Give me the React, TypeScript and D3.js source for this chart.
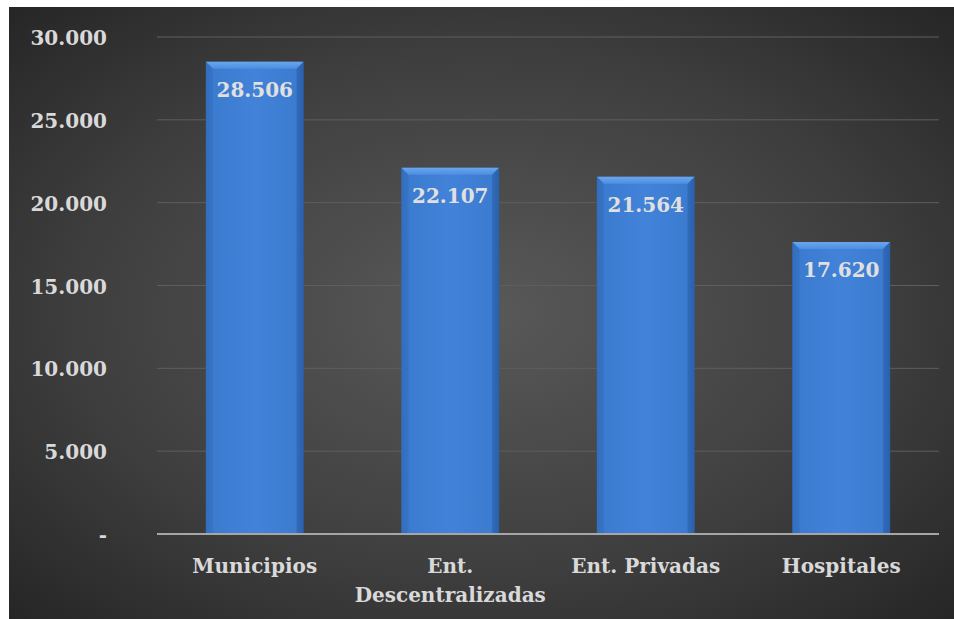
import React from "react";
import * as d3 from "d3";

const categories = [["Municipios"], ["Ent.", "Descentralizadas"], ["Ent. Privadas"], ["Hospitales"]];
const values = [28506, 22107, 21564, 17620];
const labels = ["28.506", "22.107", "21.564", "17.620"];
const tickValues = [0, 5000, 10000, 15000, 20000, 25000, 30000];
const tickLabels = ["-", "5.000", "10.000", "15.000", "20.000", "25.000", "30.000"];

const W = 954, H = 619;
const left = 157, right = 939, top = 37, bottom = 534;
const font = "'DejaVu Serif', serif";

export default function App() {
  const x = d3.scaleBand<number>().domain(d3.range(values.length)).range([left, right]).paddingInner(0.5).paddingOuter(0.25);
  const y = d3.scaleLinear().domain([0, 30000]).range([bottom, top]);
  const bw = x.bandwidth();
  const bev = 7;
  return (
    <svg width={W} height={H} style={{ position: "absolute", left: 0, top: 0 }}>
      <defs>
        <radialGradient id="bg" cx="0.5" cy="0.5" r="0.75">
          <stop offset="0" stopColor="#595959" />
          <stop offset="0.55" stopColor="#3f3f3f" />
          <stop offset="1" stopColor="#222222" />
        </radialGradient>
        <linearGradient id="face" x1="0" x2="1" y1="0" y2="0">
          <stop offset="0" stopColor="#2f69b8" />
          <stop offset="0.08" stopColor="#3b7bd0" />
          <stop offset="0.5" stopColor="#4282d8" />
          <stop offset="0.92" stopColor="#3b7bd0" />
          <stop offset="1" stopColor="#2a5ea8" />
        </linearGradient>
        <linearGradient id="topbev" x1="0" x2="0" y1="0" y2="1">
          <stop offset="0" stopColor="#6aa6ee" />
          <stop offset="1" stopColor="#4d8ee0" />
        </linearGradient>
      </defs>
      <rect x={9} y={7} width={W - 9} height={H - 7} fill="url(#bg)" />
      {tickValues.slice(1).map((t) => (
        <line key={t} x1={left} x2={right} y1={y(t)} y2={y(t)} stroke="#5e5e5e" strokeWidth={1} />
      ))}
      {tickValues.map((t, i) => (
        <text key={t} x={107} y={y(t) + 8} textAnchor="end" fontFamily={font} fontWeight="bold" fontSize={20} fill="#d9d9d9">
          {tickLabels[i]}
        </text>
      ))}
      {values.map((v, i) => {
        const x0 = x(i)!;
        const y0 = y(v);
        const h = bottom - y0;
        return (
          <g key={i}>
            <rect x={x0} y={y0} width={bw} height={h} fill="url(#face)" />
            <polygon points={`${x0},${y0} ${x0 + bw},${y0} ${x0 + bw - bev},${y0 + bev} ${x0 + bev},${y0 + bev}`} fill="url(#topbev)" />
            <polygon points={`${x0},${y0} ${x0 + bev},${y0 + bev} ${x0 + bev},${bottom} ${x0},${bottom}`} fill="#3671c2" opacity={0.6} />
            <polygon points={`${x0 + bw},${y0} ${x0 + bw - bev},${y0 + bev} ${x0 + bw - bev},${bottom} ${x0 + bw},${bottom}`} fill="#2c62ad" opacity={0.6} />
            <text x={x0 + bw / 2} y={y0 + 35} textAnchor="middle" fontFamily={font} fontWeight="bold" fontSize={20} fill="#e0e0e0">
              {labels[i]}
            </text>
          </g>
        );
      })}
      <line x1={left} x2={right} y1={bottom} y2={bottom} stroke="#a6a6a6" strokeWidth={2} />
      {categories.map((lines, i) => (
        <text key={i} textAnchor="middle" fontFamily={font} fontWeight="bold" fontSize={20} fill="#d9d9d9">
          {lines.map((l, j) => (
            <tspan key={j} x={x(i)! + bw / 2} y={573 + j * 28.5}>{l}</tspan>
          ))}
        </text>
      ))}
    </svg>
  );
}
